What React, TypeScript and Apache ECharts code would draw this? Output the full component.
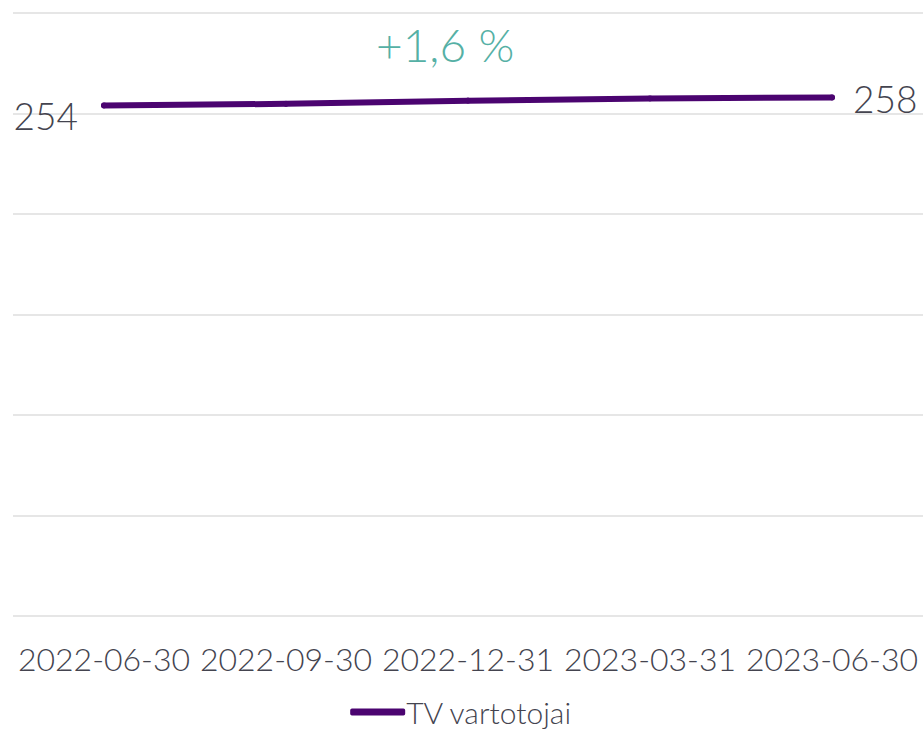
import React, { useEffect, useRef } from "react";
import * as echarts from "echarts";

const categories = ["2022-06-30", "2022-09-30", "2022-12-31", "2023-03-31", "2023-06-30"];
const seriesName = "TV vartotojai";
const values = [254, 254.8, 256.4, 257.5, 258];
const firstLabel = "254";
const lastLabel = "258";
const changeLabel = "+1,6 %";

const PURPLE = "#4b0470";
const GREY_TEXT = "#44444f";
const TEAL = "#55b0a5";
const FONT = "Lato, 'Open Sans', sans-serif";
const W = 300;

export default function App() {
  const ref = useRef<HTMLDivElement>(null);
  useEffect(() => {
    document.body.style.margin = "0";
    document.body.style.overflow = "hidden";
    if (!ref.current) return;
    const chart = echarts.init(ref.current, undefined, { renderer: "svg" });
    const n = values.length;
    const data = values.map((v, i) => {
      if (i === 0) {
        return {
          value: v,
          label: {
            show: true,
            position: "left",
            distance: 23,
            offset: [0, 10],
            formatter: firstLabel,
            color: GREY_TEXT,
            fontSize: 37,
            fontWeight: W,
            fontFamily: FONT,
          },
        };
      }
      if (i === n - 1) {
        return {
          value: v,
          label: {
            show: true,
            position: "right",
            distance: 18,
            offset: [0, 1],
            formatter: lastLabel,
            color: GREY_TEXT,
            fontSize: 37,
            fontWeight: W,
            fontFamily: FONT,
          },
        };
      }
      return { value: v };
    });
    chart.setOption({
      animation: false,
      textStyle: { fontFamily: FONT },
      grid: { left: 13, right: 0, top: 13, bottom: 118, containLabel: false },
      xAxis: {
        type: "category",
        data: categories,
        boundaryGap: true,
        axisLine: { show: false },
        axisTick: { show: false },
        axisLabel: {
          color: GREY_TEXT,
          fontSize: 32,
          fontWeight: W,
          margin: 26,
          fontFamily: FONT,
          interval: 0,
        },
      },
      yAxis: {
        type: "value",
        min: 0,
        max: 300,
        interval: 50,
        axisLabel: { show: false },
        axisLine: { show: false },
        axisTick: { show: false },
        splitLine: { show: true, lineStyle: { color: "#dedede", width: 1.5 } },
      },
      legend: {
        show: true,
        bottom: 2,
        left: "center",
        itemWidth: 55,
        itemHeight: 7,
        itemGap: 10,
        icon: "roundRect",
        textStyle: { color: GREY_TEXT, fontSize: 30, fontWeight: W, fontFamily: FONT, padding: [0, 0, 0, -4] },
        data: [{ name: seriesName, itemStyle: { color: PURPLE } }],
      },
      graphic: [
        {
          type: "text",
          left: 376,
          top: 21,
          style: {
            text: changeLabel,
            fill: TEAL,
            font: `${W} 46px ${FONT}`,
          },
        },
      ],
      series: [
        {
          name: seriesName,
          type: "line",
          data,
          smooth: false,
          showSymbol: true,
          symbol: "circle",
          symbolSize: 6,
          itemStyle: { color: PURPLE },
          lineStyle: { color: PURPLE, width: 6, cap: "round", join: "round" },
          emphasis: { disabled: true },
        },
      ],
    });
    return () => chart.dispose();
  }, []);
  return <div ref={ref} style={{ width: 923, height: 734 }} />;
}
